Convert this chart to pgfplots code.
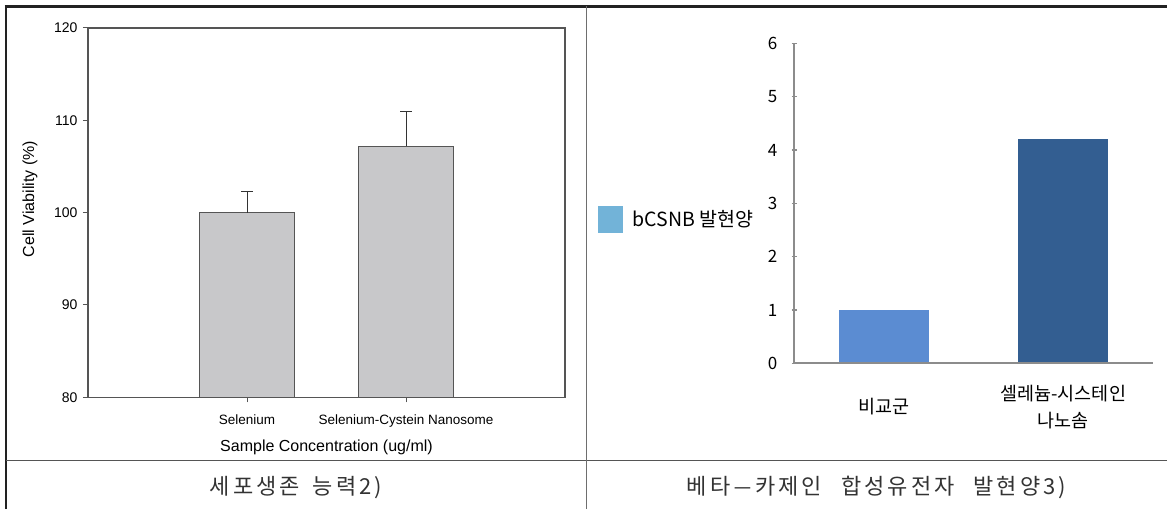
\documentclass[border=0pt]{standalone}
\usepackage{fontspec}
\setmainfont{Liberation Sans}
\newfontfamily\kr{Noto Sans CJK KR}
\newfontfamily\krcap[LetterSpace=14]{Noto Sans CJK KR}
\usepackage{graphicx}
\usepackage{pgfplots}
\pgfplotsset{compat=1.18}

\definecolor{bargray}{HTML}{C8C8CA}
\definecolor{edgegray}{HTML}{555555}
\definecolor{axgray}{HTML}{8C8C8C}
\definecolor{blueA}{HTML}{5B8CD2}
\definecolor{blueB}{HTML}{335E91}
\definecolor{legblue}{HTML}{72B3D8}
\definecolor{rulecol}{HTML}{222222}

\begin{document}
\begin{tikzpicture}
\useasboundingbox (0pt,0pt) rectangle (1167pt,509pt);

% table frame
\draw[rulecol, line width=2.6pt] (6pt,0pt) -- (6pt,502.5pt);
\draw[rulecol, line width=2.6pt] (4.7pt,502.5pt) -- (1167pt,502.5pt);
\draw[edgegray, line width=1.3pt] (6pt,48.3pt) -- (1167pt,48.3pt);
\draw[edgegray!85, line width=1.5pt] (586.7pt,0pt) -- (586.7pt,502.5pt);

% left: cell viability
\begin{axis}[
    at={(88pt,111.7pt)}, anchor=south west,
    scale only axis, width=477pt, height=369.3pt,
    xmin=0, xmax=3, ymin=80, ymax=120,
    ytick={80,90,...,120}, xtick={1,2},
    xticklabels={Selenium,Selenium-Cystein Nanosome},
    axis line style={edgegray, line width=1.2pt},
    tick style={edgegray, line width=1pt},
    tick align=outside, major tick length=5pt,
    xtick pos=left, ytick pos=left,
    /pgf/number format/assume math mode=true,
    yticklabel style={font=\fontsize{14}{16}\selectfont, xshift=-2pt},
    xticklabel style={font=\fontsize{13.5}{16}\selectfont, yshift=-9pt},
    xlabel={Sample Concentration (ug/ml)},
    ylabel={Cell Viability (\%)},
    every axis x label/.style={at={(axis description cs:0.5,-0.1365)}, anchor=center,
      font=\fontsize{16}{19}\selectfont},
    every axis y label/.style={at={(axis description cs:-0.1216,0.537)}, rotate=90, anchor=center,
      font=\fontsize{16}{19}\selectfont},
  ]
  \addplot[ybar, bar width=95pt, fill=bargray, draw=edgegray, line width=1pt,
    error bars/.cd, y dir=plus, y explicit,
    error bar style={black!80, line width=1pt},
    error mark options={black!80, rotate=90, mark size=6pt, line width=1pt}]
    coordinates {(1,100) +- (0,2.3) (2,107.2) +- (0,3.8)};
\end{axis}

% right: beta-casein expression
\begin{axis}[
    at={(794pt,145.7pt)}, anchor=south west,
    scale only axis, width=359pt, height=320pt,
    xmin=0.5, xmax=2.5, ymin=0, ymax=6,
    axis lines*=left, axis line style={axgray, line width=2pt, -},
    axis on top,
    ytick={0,1,...,6}, xtick={1,2},
    xticklabels={비교군,{셀레늄-시스테인\\나노솜}},
    tick align=center, major tick length=5pt,
    ytick style={axgray, line width=1.2pt}, xtick style={draw=none},
    /pgf/number format/assume math mode=true,
    yticklabel style={font=\kr\fontsize{17}{20}\selectfont, anchor=east, inner sep=0pt, xshift=-14pt},
    xticklabel style={font=\kr\fontsize{18.5}{27}\selectfont, align=center, anchor=center, yshift=-41pt},
    legend style={at={(axis description cs:-0.546,0.449)}, anchor=west, draw=none, fill=none,
      inner sep=0pt, column sep=10pt, font=\kr\fontsize{19.5}{22}\selectfont, nodes={inner sep=0pt}},
  ]
  \addlegendimage{legend image code/.code={\fill[legblue] (0pt,-13pt) rectangle (24pt,13pt);}}
  \addlegendentry{bCSNB 발현양}
  \addplot[ybar, bar width=90pt, bar shift=0pt, fill=blueA, draw=none, forget plot]
    coordinates {(1,1.0)};
  \addplot[ybar, bar width=90pt, bar shift=0pt, fill=blueB, draw=none, forget plot]
    coordinates {(2,4.2)};
\end{axis}

% captions
\node[font=\krcap\fontsize{22}{26}\selectfont, anchor=base, text=black!80] at (296pt,15pt)
  {세포생존\hspace{13pt}능력2)};
\node[font=\krcap\fontsize{22}{26}\selectfont, anchor=base, text=black!80] at (876.5pt,15pt)
  {베타\hspace{3pt}\scalebox{1.6}[1]{–}\hspace{3pt}카제인\hspace{19pt}합성유전자\hspace{19pt}발현양3)};
\end{tikzpicture}
\end{document}
